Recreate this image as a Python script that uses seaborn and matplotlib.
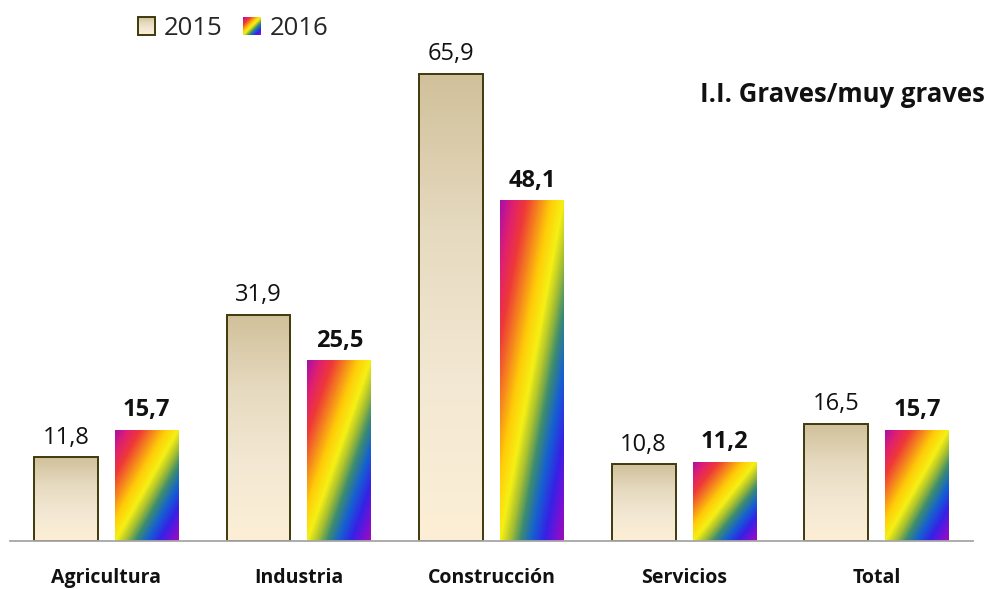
import numpy as np
import pandas as pd
import matplotlib
matplotlib.use("Agg")
import matplotlib.pyplot as plt
import seaborn as sns
from matplotlib.colors import LinearSegmentedColormap
from matplotlib.legend_handler import HandlerBase
from matplotlib.image import BboxImage
from matplotlib.transforms import Bbox, TransformedBbox
from matplotlib.patches import Rectangle

# ---- data ----
categories = ["Agricultura", "Industria", "Construcción", "Servicios", "Total"]
years = ["2015", "2016"]
values_2015 = [11.8, 31.9, 65.9, 10.8, 16.5]
values_2016 = [15.7, 25.5, 48.1, 11.2, 15.7]
title_text = "I.I. Graves/muy graves"

df = pd.DataFrame({
    "Sector": categories * 2,
    "Año": [years[0]] * len(categories) + [years[1]] * len(categories),
    "Valor": values_2015 + values_2016,
})

sns.set_theme(style="white")
plt.rcParams["font.family"] = ["Open Sans", "DejaVu Sans"]

# ---- gradients ----
tan_cmap = LinearSegmentedColormap.from_list("tan", ["#D1C19B", "#E6DAC0", "#F3E8D3", "#FDEFD6"])
rainbow_cmap = LinearSegmentedColormap.from_list("rb", [
    (0.00, "#A80FA8"), (0.10, "#E01F70"), (0.20, "#EE3838"), (0.30, "#F5821E"),
    (0.40, "#FFCC08"), (0.50, "#F6F014"), (0.58, "#A8C030"), (0.66, "#3C8C70"),
    (0.75, "#1560D2"), (0.85, "#3522E6"), (0.94, "#7A10D4"), (1.00, "#9A10B4")])

def tan_img(n=100):
    v = np.linspace(0, 1, n)[::-1].reshape(-1, 1)  # row 0 = bottom (origin lower)
    t = np.repeat(v, 2, axis=1)
    return tan_cmap(t)

def rainbow_img(ny=120, nx=60):
    u = np.linspace(0, 1, nx)[None, :]
    vtop = np.linspace(1, 0, ny)[:, None]  # row 0 bottom -> vtop=1
    t = (u + vtop) / 2
    return rainbow_cmap(t)

fig = plt.figure(figsize=(9.9, 5.89), dpi=100)
ax = fig.add_axes([10 / 990, 48 / 589, 963 / 990, 496 / 589])

sns.barplot(data=df, x="Sector", y="Valor", hue="Año", order=categories,
            hue_order=years, palette=["#E8DCC0", "#F0E020"], width=0.84, gap=0.21,
            legend=False, ax=ax, saturation=1)

edge_col = "#3E3A0C"
for ci, cont in enumerate(ax.containers):
    for p in cont.patches:
        x, y = p.get_x(), p.get_y()
        w, h = p.get_width(), p.get_height()
        img = tan_img() if ci == 0 else rainbow_img()
        im = ax.imshow(img, extent=[x, x + w, y, y + h], origin="lower",
                       aspect="auto", interpolation="bilinear", zorder=p.get_zorder() - 0.01)
        im.set_clip_path(p)
        p.set_facecolor("none")
        if ci == 0:
            p.set_edgecolor(edge_col)
            p.set_linewidth(1.4)
        else:
            p.set_edgecolor("none")
            p.set_linewidth(0)

fmt = lambda v: f"{v:.1f}".replace(".", ",")
ax.bar_label(ax.containers[0], labels=[fmt(v) for v in values_2015], padding=5.5,
             fontsize=17, color="#111111")
ax.bar_label(ax.containers[1], labels=[fmt(v) for v in values_2016], padding=5.5,
             fontsize=17, fontweight="bold", color="#111111")

ax.set_xlim(-0.5, len(categories) - 0.5)
ax.set_ylim(0, 70)
ax.set_xlabel("")
ax.set_ylabel("")
ax.set_yticks([])
for s in ["top", "right", "left"]:
    ax.spines[s].set_visible(False)
ax.spines["bottom"].set_color("#A6A6A6")
ax.spines["bottom"].set_linewidth(1.3)
ax.tick_params(axis="x", length=0, pad=19.5, labelsize=14)
for lab in ax.get_xticklabels():
    lab.set_fontweight("bold")
    lab.set_color("#111111")

fig.text(985 / 990, 1 - 95 / 589, title_text, ha="right", va="center",
         fontsize=18.5, fontweight="bold", color="#111111")

# ---- legend with gradient squares ----
class GradientHandler(HandlerBase):
    def __init__(self, arr, edge=None, **kw):
        super().__init__(**kw)
        self.arr = arr
        self.edge = edge

    def create_artists(self, legend, orig_handle, xdescent, ydescent, width, height, fontsize, trans):
        s = height
        x0 = -xdescent + (width - s) / 2
        y0 = -ydescent
        bb = TransformedBbox(Bbox.from_bounds(x0, y0, s, s), trans)
        img = BboxImage(bb, interpolation="bilinear", origin="lower")
        img.set_data(self.arr)
        arts = [img]
        if self.edge is not None:
            r = Rectangle((x0, y0), s, s, facecolor="none", edgecolor=self.edge,
                          linewidth=1.4, transform=trans)
            arts.append(r)
        return arts

h1 = Rectangle((0, 0), 1, 1)
h2 = Rectangle((0, 0), 1, 1)
fig.legend([h1, h2], years, loc="upper left", bbox_to_anchor=(138 / 990, 1 - 16 / 589),
           ncol=2, frameon=False, fontsize=18.5, handlelength=0.67, handleheight=0.67,
           handletextpad=0.35, columnspacing=0.8, borderpad=0, borderaxespad=0,
           handler_map={h1: GradientHandler(tan_img(), edge=edge_col),
                        h2: GradientHandler(rainbow_img(40, 40))})

fig.savefig("out.png", dpi=100)
